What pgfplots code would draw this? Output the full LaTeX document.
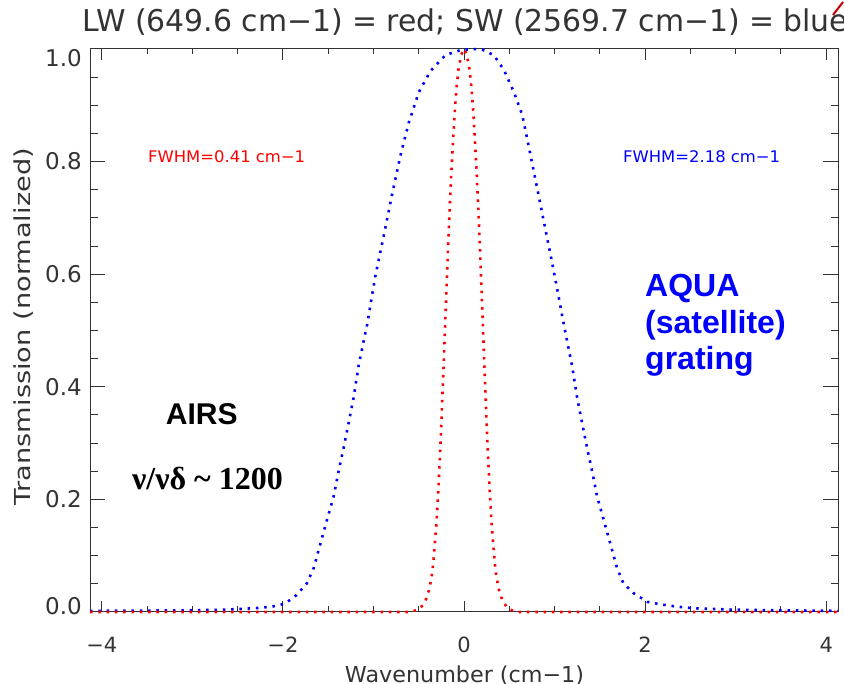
\documentclass[border=0pt]{standalone}
\usepackage{pgfplots}
\pgfplotsset{compat=1.18}
\usepackage{fontspec}
\setmainfont{DejaVu Sans}
\newfontfamily\arialf{Liberation Sans}
\newfontfamily\timesf{Liberation Serif}
\begin{document}
\begin{tikzpicture}
\useasboundingbox (0bp,0bp) rectangle (844bp,684bp);
\begin{axis}[
  at={(90bp,72bp)}, anchor=south west, scale only axis,
  width=748bp, height=563bp,
  xmin=-4.13, xmax=4.13, ymin=0, ymax=1,
  clip=false,
  axis line style={black!80, line width=1bp},
  tick style={black!80, line width=1bp},
  tick align=inside,
  xtick={-4,-2,0,2,4}, xticklabels={−4,−2,0,2,4},
  minor x tick num=3,
  ytick={0,0.2,0.4,0.6,0.8,1},
  yticklabels={{\raisebox{6bp}[\height][\depth]{0.0}},0.2,0.4,0.6,0.8,{\raisebox{-9bp}[\height][\depth]{1.0}}},
  minor y tick num=3,
  xtick style={/pgfplots/major tick length=11bp, /pgfplots/minor tick length=5.5bp},
  ytick style={/pgfplots/major tick length=15bp, /pgfplots/minor tick length=7.5bp},
  xticklabel style={font=\fontsize{21bp}{24bp}\selectfont, text=black!80, inner sep=0pt, anchor=north, yshift=-25bp},
  yticklabel style={font=\fontsize{23bp}{26bp}\selectfont, text=black!80, inner sep=0pt, anchor=east, xshift=-8bp},
]
\addplot[blue, line width=2.6bp, dash pattern=on 2.5bp off 5.8bp] coordinates {
(-4.13,0.002) (-3.5,0.0025) (-3.0,0.003) (-2.69,0.004) (-2.53,0.005) (-2.29,0.007) (-2.12,0.0095)
(-1.975,0.015) (-1.85,0.030) (-1.735,0.051) (-1.66,0.078) (-1.59,0.119) (-1.514,0.163)
(-1.44,0.205) (-1.386,0.249) (-1.33,0.291) (-1.275,0.335) (-1.22,0.380) (-1.165,0.436)
(-1.11,0.480) (-1.07,0.510) (-0.98,0.596) (-0.888,0.667) (-0.795,0.741) (-0.70,0.812)
(-0.61,0.869) (-0.50,0.923) (-0.37,0.961) (-0.206,0.989) (-0.04,0.998) (0.10,1.0)
(0.2,0.999) (0.33,0.989) (0.44,0.963) (0.55,0.924) (0.643,0.883) (0.716,0.826)
(0.79,0.767) (0.864,0.708) (0.937,0.649) (1.01,0.590) (1.085,0.525) (1.14,0.480)
(1.195,0.436) (1.25,0.380) (1.305,0.335) (1.36,0.291) (1.416,0.249) (1.47,0.205)
(1.544,0.163) (1.62,0.119) (1.69,0.078) (1.76,0.051) (1.877,0.033) (2.025,0.018)
(2.17,0.0136) (2.357,0.0094) (2.54,0.0065) (3.0,0.004) (3.5,0.003) (4.13,0.002)
};
\addplot[red, line width=2.6bp, dash pattern=on 2.5bp off 5.8bp] coordinates {
(-4.13,0) (-0.60,0) (-0.53,0.003) (-0.467,0.010) (-0.425,0.02) (-0.40,0.032) (-0.38,0.043)
(-0.365,0.057) (-0.348,0.073) (-0.333,0.10) (-0.318,0.13) (-0.303,0.16) (-0.293,0.19)
(-0.282,0.22) (-0.274,0.249) (-0.265,0.278) (-0.258,0.305) (-0.25,0.335) (-0.243,0.365)
(-0.236,0.395) (-0.228,0.425) (-0.221,0.455) (-0.214,0.485) (-0.207,0.515) (-0.20,0.545)
(-0.194,0.57) (-0.187,0.60) (-0.18,0.63) (-0.173,0.66) (-0.165,0.69) (-0.157,0.72)
(-0.148,0.75) (-0.14,0.78) (-0.13,0.81) (-0.118,0.845) (-0.107,0.875) (-0.095,0.905)
(-0.08,0.935) (-0.06,0.965) (-0.03,0.99) (0,1.0)
(0.03,0.99) (0.06,0.965) (0.08,0.935) (0.095,0.905) (0.107,0.875) (0.118,0.845)
(0.13,0.81) (0.14,0.78) (0.148,0.75) (0.157,0.72) (0.165,0.69) (0.173,0.66) (0.18,0.63)
(0.187,0.60) (0.194,0.57) (0.20,0.545) (0.207,0.515) (0.214,0.485) (0.221,0.455)
(0.228,0.425) (0.236,0.395) (0.243,0.365) (0.25,0.335) (0.258,0.305) (0.265,0.278)
(0.274,0.249) (0.282,0.22) (0.293,0.19) (0.303,0.16) (0.318,0.13) (0.333,0.10)
(0.348,0.073) (0.365,0.057) (0.38,0.043) (0.40,0.032) (0.425,0.02) (0.467,0.010)
(0.53,0.003) (0.60,0) (4.13,0)
};
\end{axis}
% title
\node[anchor=base west, inner sep=0pt, text=black!80] at (82bp,652bp)
  {\resizebox{766bp}{\height}{\fontsize{30bp}{34bp}\selectfont LW (649.6 cm−1) = red; SW (2569.7 cm−1) = blue}};
\draw[red!75!black, line width=2bp] (833bp,669bp) -- (843bp,682bp);
% axis labels
\node[anchor=base, inner sep=0pt, text=black!80] at (464.5bp,2bp)
  {\resizebox{239bp}{\height}{\fontsize{22bp}{26bp}\selectfont Wavenumber (cm−1)}};
\node[rotate=90, anchor=base, inner sep=0pt, text=black!80] at (30bp,357.5bp)
  {\resizebox{357bp}{\height}{\fontsize{22bp}{26bp}\selectfont Transmission (normalized)}};
% FWHM annotations
\node[anchor=base west, inner sep=0pt, text=red] at (148bp,521bp)
  {\resizebox{157bp}{\height}{\fontsize{16bp}{18bp}\selectfont FWHM=0.41 cm−1}};
\node[anchor=base west, inner sep=0pt, text=blue] at (623bp,521bp)
  {\resizebox{157bp}{\height}{\fontsize{16bp}{18bp}\selectfont FWHM=2.18 cm−1}};
% AIRS text
\node[anchor=base, inner sep=0pt] at (201.7bp,259bp)
  {\fontsize{30bp}{34bp}\selectfont\arialf\bfseries AIRS};
\node[anchor=base, inner sep=0pt] at (207.5bp,194bp)
  {\fontsize{32bp}{36bp}\selectfont\timesf\bfseries ν/νδ \textasciitilde{} 1200};
% AQUA text
\node[anchor=base west, inner sep=0pt, text=blue] at (645bp,387bp)
  {\fontsize{32bp}{36bp}\selectfont\arialf\bfseries AQUA};
\node[anchor=base west, inner sep=0pt, text=blue] at (645bp,350bp)
  {\fontsize{32bp}{36bp}\selectfont\arialf\bfseries (satellite)};
\node[anchor=base west, inner sep=0pt, text=blue] at (645bp,314bp)
  {\fontsize{32bp}{36bp}\selectfont\arialf\bfseries grating};
\end{tikzpicture}
\end{document}
